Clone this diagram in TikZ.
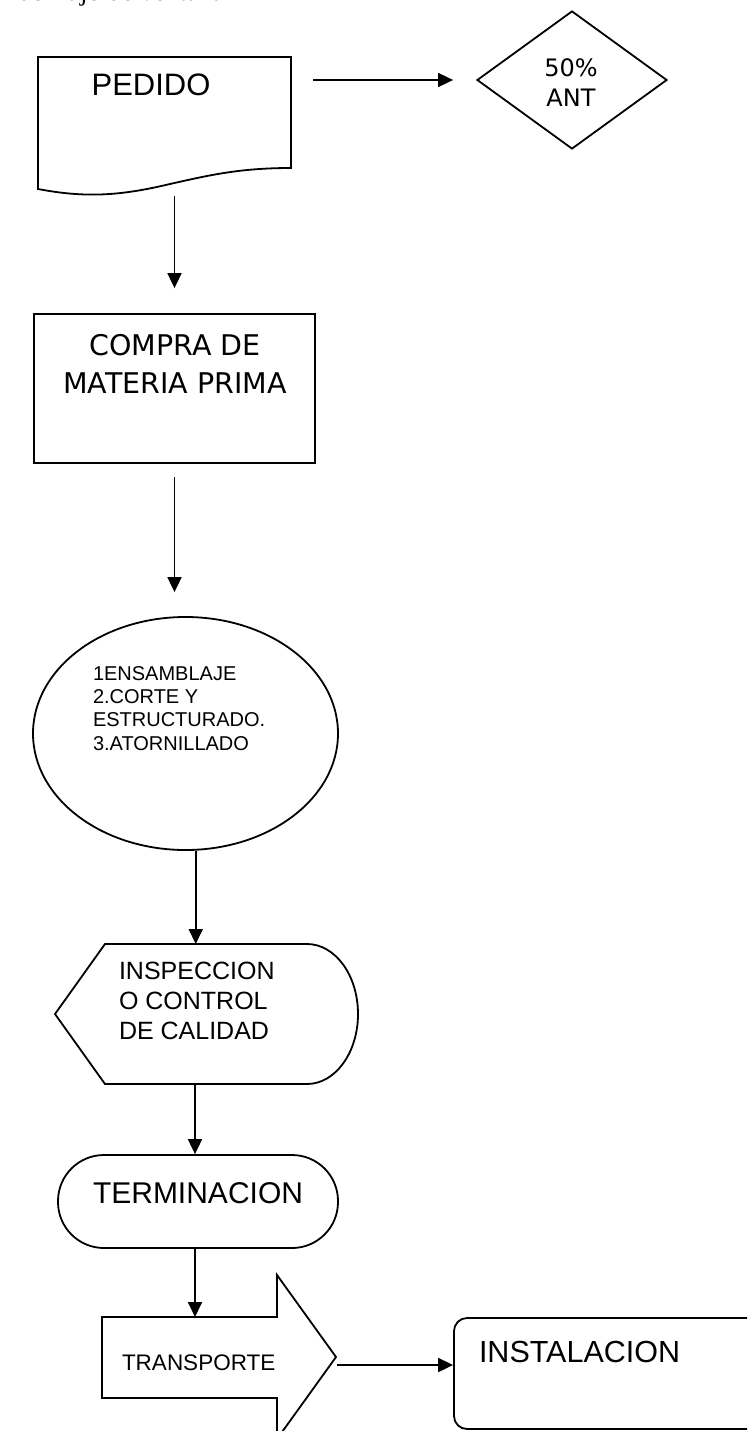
\documentclass[tikz,border=0pt]{standalone}
\usepackage{fontspec}
\setmainfont{Liberation Sans}
\newfontfamily\tah{DejaVu Sans}
\newfontfamily\tms{Liberation Serif}
\usetikzlibrary{arrows.meta,shapes.geometric}
\tikzset{
  ln/.style={line width=1.8pt, line join=miter},
  arr/.style={line width=1.8pt, -{Triangle[length=15pt,width=14pt]}},
  ghost/.style={inner sep=0pt, outer sep=0pt, minimum width=#1},
  txt/.style={inner sep=0pt, outer sep=0pt}
}
\begin{document}
\begin{tikzpicture}[x=1pt,y=-1pt]
\useasboundingbox (0,0) rectangle (747,1431);
\clip (0,0) rectangle (747,1431);
\fill[white] (0,0) rectangle (747,1431);

% clipped heading line at the very top
\node[txt, anchor=base west, font={\tms\fontsize{27}{30}\selectfont}] (head) at (18,0.5) {de flujo de ventana};

% PEDIDO document shape
\node[ghost=253pt, minimum height=139pt] (ped) at (164.5,126.5) {};
\draw[ln] (38,57) -- (291,57) -- (291,168)
  .. controls (240,168) and (210,175) .. (170,184)
  .. controls (120,196) and (85,198) .. (38,189) -- cycle;
\node[txt, anchor=base, font={\fontsize{31}{36}\selectfont}] (pedt) at (151,96) {PEDIDO};

% diamond 50% ANT
\node[draw, ln, diamond, inner sep=0pt, minimum width=190pt, minimum height=138pt] (dia) at (572,80) {};
\node[txt, anchor=base, align=center, font={\tah\fontsize{24}{30}\selectfont}] (diat) at (571,107) {50\%\\ANT};

% COMPRA DE MATERIA PRIMA
\node[draw, ln, inner sep=0pt, minimum width=281pt, minimum height=149pt] (comp) at (174.5,388.5) {};
\node[txt, anchor=base, align=center, font={\tah\fontsize{28.5}{38}\selectfont}] (compt) at (175,393) {COMPRA DE\\MATERIA PRIMA};

% ellipse
\node[draw, ln, ellipse, inner sep=0pt, minimum width=305pt, minimum height=233pt] (ens) at (185.5,733.5) {};
\node[txt, anchor=base west, align=left, font={\fontsize{20}{23.3}\selectfont}] (enst) at (93,750) {1ENSAMBLAJE\\2.CORTE Y\\ESTRUCTURADO.\\3.ATORNILLADO};

% INSPECCION display shape
\node[ghost=303pt, minimum height=140pt] (insp) at (206.5,1014) {};
\draw[ln] (55,1014) -- (105,944) -- (307,944)
  .. controls (335,944) and (358,975) .. (358,1014)
  .. controls (358,1053) and (335,1084) .. (307,1084)
  -- (105,1084) -- cycle;
\node[txt, anchor=base west, align=left, font={\fontsize{25}{30}\selectfont}] (inspt) at (119,1039) {INSPECCION\\O CONTROL\\DE CALIDAD};

% TERMINACION terminator
\node[draw, ln, inner sep=0pt, rounded corners=46pt, minimum width=280pt, minimum height=93pt] (term) at (198,1201.5) {};
\node[txt, anchor=base, font={\fontsize{30}{36}\selectfont}] (termt) at (198,1203) {TERMINACION};

% TRANSPORTE block arrow
\node[ghost=175pt, minimum height=81pt] (trans) at (189.5,1357.5) {};
\draw[ln] (102,1317) -- (277,1317) -- (277,1275) -- (336,1357) -- (277,1439) -- (277,1398) -- (102,1398) -- cycle;
\node[txt, anchor=base west, font={\fontsize{22.5}{27}\selectfont}] (transt) at (122,1370) {TRANSPORTE};

% INSTALACION
\node[draw, ln, inner sep=0pt, rounded corners=13pt, minimum width=346pt, minimum height=111pt] (inst) at (627,1373.5) {};
\node[txt, anchor=base west, font={\fontsize{30.5}{36}\selectfont}] (instt) at (479,1362) {INSTALACION};

% connectors
\coordinate (axis) at (195,0);
\coordinate (tip) at (337,1365);
\draw[arr, shorten <=22pt, shorten >=23pt] (ped.east |- dia.west) -- (dia.west);
\draw[arr, shorten >=25pt] (comp.north |- ped.south) -- (comp.north);
\draw[arr, shorten <=13pt, shorten >=24pt] (comp.south) -- (comp.south |- ens.north);
\draw[arr] (ens.-85.3) -- (ens.-85.3 |- insp.north);
\draw[arr] (axis |- insp.south) -- (axis |- term.north);
\draw[arr] (axis |- term.south) -- (axis |- trans.north);
\draw[arr] (tip) -- (tip -| inst.west);
\end{tikzpicture}
\end{document}
